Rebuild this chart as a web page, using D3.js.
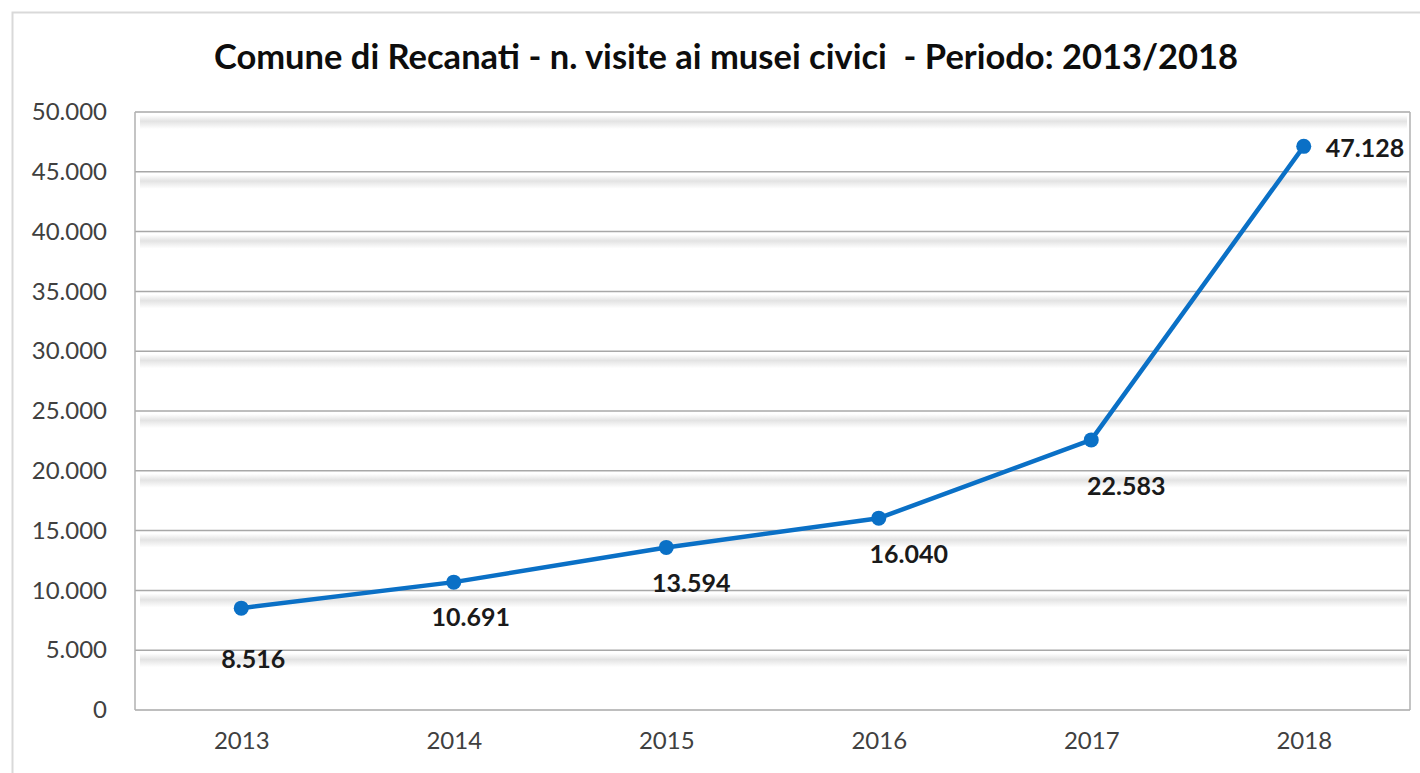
<!DOCTYPE html>
<html>
<head>
<meta charset="utf-8">
<script src="https://cdn.jsdelivr.net/npm/d3@7"></script>
<style>
  body { margin: 0; background: #fff; }
  svg { display: block; font-family: Lato, "Open Sans", sans-serif; }
</style>
</head>
<body>
<div id="chart"></div>
<script>
// Data
const years = ["2013", "2014", "2015", "2016", "2017", "2018"];
const visits = [8516, 10691, 13594, 16040, 22583, 47128];
const yTicks = [0, 5000, 10000, 15000, 20000, 25000, 30000, 35000, 40000, 45000, 50000];
const titleText = "Comune di Recanati - n. visite ai musei civici  - Periodo: 2013/2018";

// Hand-placed label offsets (dx, dy) relative to each point, as in the original
const labelOffsets = [[12, 51], [17, 35], [25, 36], [30, 36], [35, 46], [22, 2]];

const width = 1420, height = 773;
const margin = { top: 112, right: 10, bottom: 63, left: 135 };

const svg = d3.select("#chart").append("svg")
    .attr("width", width)
    .attr("height", height);

// Outer chart border
svg.append("rect")
    .attr("x", 12.5).attr("y", 12.5)
    .attr("width", width + 20).attr("height", height + 20)
    .attr("fill", "#fff")
    .attr("stroke", "#d9d9d9")
    .attr("stroke-width", 2);

// Gradient for the soft shadow under each gridline
const defs = svg.append("defs");
const grad = defs.append("linearGradient")
    .attr("id", "shade").attr("x1", 0).attr("y1", 0).attr("x2", 0).attr("y2", 1);
grad.append("stop").attr("offset", "0%").attr("stop-color", "#ffffff");
grad.append("stop").attr("offset", "45%").attr("stop-color", "#e3e3e3");
grad.append("stop").attr("offset", "100%").attr("stop-color", "#ffffff");

const x = d3.scalePoint()
    .domain(years)
    .range([margin.left, width - margin.right])
    .padding(0.5);

const y = d3.scaleLinear()
    .domain([0, 50000])
    .range([height - margin.bottom, margin.top]);

const fmt = d3.formatLocale({ decimal: ",", thousands: ".", grouping: [3], currency: ["", "€"] }).format(",");

// Shadows under gridlines
svg.append("g").selectAll("rect")
    .data(yTicks.filter(d => d > 0))
    .enter().append("rect")
    .attr("x", margin.left + 5)
    .attr("y", d => y(d) + 3)
    .attr("width", width - margin.right - margin.left - 8)
    .attr("height", 14)
    .attr("fill", "url(#shade)");

// Gridlines
svg.append("g").selectAll("line")
    .data(yTicks)
    .enter().append("line")
    .attr("x1", margin.left).attr("x2", width - margin.right)
    .attr("y1", d => y(d)).attr("y2", d => y(d))
    .attr("stroke", "#a8a8a8")
    .attr("stroke-width", 1.5);

// Left and right frame lines
[margin.left, width - margin.right].forEach(xp => {
    svg.append("line")
        .attr("x1", xp).attr("x2", xp)
        .attr("y1", y(50000)).attr("y2", y(0))
        .attr("stroke", "#b0b0b0")
        .attr("stroke-width", 1.5);
});

// Y axis labels
const yAxis = d3.axisLeft(y).tickValues(yTicks).tickFormat(d => fmt(d)).tickSize(0).tickPadding(28);
const gy = svg.append("g")
    .attr("transform", `translate(${margin.left},0)`)
    .call(yAxis)
    .attr("font-family", null)
    .attr("font-size", null);
gy.select(".domain").remove();
gy.selectAll("text")
    .attr("fill", "#404040")
    .style("font-size", "24px");

// X axis labels
const xAxis = d3.axisBottom(x).tickSize(0).tickPadding(22);
const gx = svg.append("g")
    .attr("transform", `translate(0,${y(0)})`)
    .call(xAxis)
    .attr("font-family", null)
    .attr("font-size", null);
gx.select(".domain").remove();
gx.selectAll("text")
    .attr("fill", "#404040")
    .style("font-size", "24px");

// Line
const points = years.map((yr, i) => ({ year: yr, value: visits[i], off: labelOffsets[i] }));

const line = d3.line()
    .x(d => x(d.year))
    .y(d => y(d.value));

svg.append("path")
    .datum(points)
    .attr("d", line)
    .attr("fill", "none")
    .attr("stroke", "#0a70c6")
    .attr("stroke-width", 4.5)
    .attr("stroke-linejoin", "round");

svg.append("g").selectAll("circle")
    .data(points)
    .enter().append("circle")
    .attr("cx", d => x(d.year))
    .attr("cy", d => y(d.value))
    .attr("r", 7.5)
    .attr("fill", "#0a70c6");

// Data labels
svg.append("g").selectAll("text")
    .data(points)
    .enter().append("text")
    .attr("x", (d, i) => x(d.year) + d.off[0])
    .attr("y", d => y(d.value) + d.off[1])
    .attr("dy", "0.35em")
    .attr("text-anchor", (d, i) => i === points.length - 1 ? "start" : "middle")
    .style("font-size", "25px")
    .style("font-weight", "bold")
    .attr("fill", "#1a1a1a")
    .text(d => fmt(d.value));

// Title, sized to span the same width as the original
const title = svg.append("text")
    .attr("x", 726)
    .attr("y", 57)
    .attr("dy", "0.35em")
    .attr("text-anchor", "middle")
    .style("font-size", "30px")
    .style("font-weight", "bold")
    .style("white-space", "pre")
    .attr("fill", "#0d0d0d")
    .text(titleText);
const tw = title.node().getComputedTextLength();
title.style("font-size", (30 * 1024 / tw).toFixed(1) + "px");
</script>
</body>
</html>
